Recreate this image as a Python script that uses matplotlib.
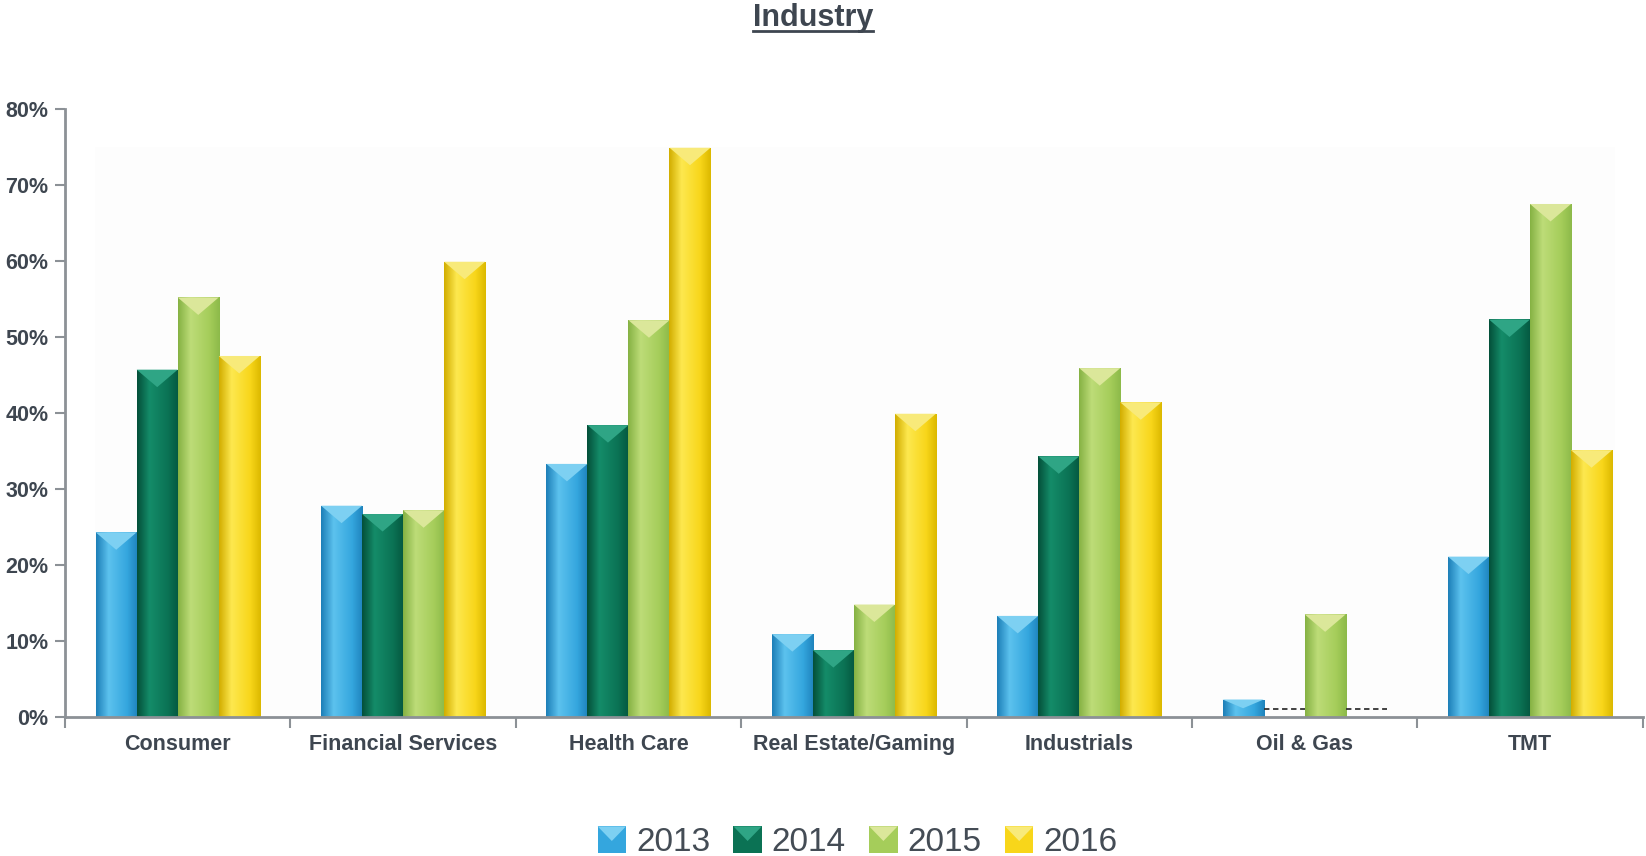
import matplotlib
matplotlib.use("Agg")
import matplotlib.pyplot as plt
import numpy as np
from matplotlib.colors import LinearSegmentedColormap
from matplotlib.patches import Rectangle, Polygon
from matplotlib.legend_handler import HandlerBase
from matplotlib.lines import Line2D

plt.rcParams['font.family'] = ['Liberation Sans', 'DejaVu Sans']

# Share of deals by industry and year (%)
industries = ['Consumer', 'Financial Services', 'Health Care', 'Real Estate/Gaming',
              'Industrials', 'Oil & Gas', 'TMT']
years = ['2013', '2014', '2015', '2016']
v2013 = [24.3, 27.8, 33.3, 10.9, 13.3, 2.3, 21.1]
v2014 = [45.7, 26.7, 38.4, 8.8, 34.3, 0.0, 52.3]
v2015 = [55.2, 27.2, 52.2, 14.8, 45.9, 13.5, 67.5]
v2016 = [47.5, 59.9, 74.9, 39.9, 41.4, 0.0, 35.1]
series = [v2013, v2014, v2015, v2016]

# dark edge, light, base, dark edge  +  colour of the top cap
palettes = {
    '2013': (['#1d7fb8', '#5cc2ee', '#34a6de', '#1f84bd'], '#7dd0f2'),
    '2014': (['#04503a', '#148c69', '#0b7254', '#055840'], '#2fa585'),
    '2015': (['#86b244', '#bddc78', '#a5cd5a', '#8dba4a'], '#dbe79a'),
    '2016': (['#d2ae00', '#fde84f', '#f8d61a', '#dcb900'], '#f8ea7a'),
}

TXT = '#3e4650'
AXC = '#8c9196'

fig = plt.figure(figsize=(16.46, 8.56), dpi=100)
ax = fig.add_axes([0.0395, 0.1624, 0.9585, 0.7103])

x = np.arange(len(industries))
width = 0.182
offsets = [-1.5 * width, -0.5 * width, 0.5 * width, 1.5 * width]

# faint plot-area panel
ax.add_patch(Rectangle((-0.368, 0), 6.744, 75, facecolor='#fdfdfd', edgecolor='none', zorder=0))

grad = np.linspace(0, 1, 64).reshape(1, -1)
for yr, vals, off in zip(years, series, offsets):
    cols, cap = palettes[yr]
    cmap = LinearSegmentedColormap.from_list(yr, list(zip([0, 0.3, 0.75, 1.0], cols)))
    bars = ax.bar(x + off, vals, width, color=cols[2], edgecolor='none', zorder=2)
    for b, v in zip(bars, vals):
        bx, bw, bh = b.get_x(), b.get_width(), b.get_height()
        if bh <= 0:
            # zero values get a dashed marker just above the axis
            ax.hlines(1.0, bx, bx + bw, colors='#333333', linestyles=(0, (3, 2)),
                      linewidth=1.3, zorder=3)
            continue
        im = ax.imshow(grad, cmap=cmap, aspect='auto', extent=[bx, bx + bw, 0, bh],
                       zorder=2.5, interpolation='bilinear')
        im.set_clip_path(b)
        d = min(2.3, bh * 0.5)
        ax.add_patch(Polygon([(bx, bh), (bx + bw, bh), (bx + bw / 2, bh - d)],
                             closed=True, facecolor=cap, edgecolor='none', zorder=3))

ax.set_xlim(-0.5, 6.5)
ax.set_ylim(0, 80)
ax.set_yticks(range(0, 81, 10))
ax.set_yticklabels([f'{t}%' for t in range(0, 81, 10)])
ax.set_xticks(x)
ax.set_xticklabels(industries)
ax.set_xticks(np.arange(-0.5, 6.6, 1), minor=True)

for lbl in ax.get_xticklabels() + ax.get_yticklabels():
    lbl.set_fontweight('bold')
ax.tick_params(axis='x', which='major', length=0, pad=12, labelsize=15.5, labelcolor=TXT)
ax.tick_params(axis='x', which='minor', length=8, width=1.5, color=AXC, direction='out')
ax.tick_params(axis='y', length=7, width=1.5, color=AXC, pad=5, labelsize=15.5, labelcolor=TXT)

for s in ['top', 'right']:
    ax.spines[s].set_visible(False)
for s in ['left', 'bottom']:
    ax.spines[s].set_color(AXC)
    ax.spines[s].set_linewidth(2)
ax.set_facecolor('white')

# title with underline
title = fig.text(0.494, 0.979, 'Industry', ha='center', va='center',
                 fontsize=22, fontweight='bold', color=TXT)
fig.canvas.draw()
bb = title.get_window_extent(fig.canvas.get_renderer()).transformed(fig.transFigure.inverted())
fig.add_artist(Line2D([bb.x0, bb.x1], [bb.y0 + 0.002, bb.y0 + 0.002],
                      transform=fig.transFigure, color=TXT, linewidth=2))


class CapHandler(HandlerBase):
    def __init__(self, cols, cap):
        super().__init__()
        self.cols, self.cap = cols, cap

    def create_artists(self, legend, orig_handle, xdescent, ydescent, width, height,
                       fontsize, trans):
        sq = Rectangle((-xdescent, -ydescent), width, height, facecolor=self.cols[2],
                       edgecolor='none', transform=trans)
        tri = Polygon([(-xdescent, -ydescent + height),
                       (-xdescent + width, -ydescent + height),
                       (-xdescent + width / 2, -ydescent + height * 0.45)],
                      closed=True, facecolor=self.cap, edgecolor='none', transform=trans)
        return [sq, tri]


handles = [Rectangle((0, 0), 1, 1) for _ in years]
hmap = {h: CapHandler(*palettes[yr]) for h, yr in zip(handles, years)}
leg = fig.legend(handles, years, handler_map=hmap, loc='center', bbox_to_anchor=(0.521, 0.016),
                 ncol=4, frameon=False, fontsize=24, handlelength=0.85, handleheight=0.85,
                 handletextpad=0.3, columnspacing=0.7)
for t in leg.get_texts():
    t.set_color('#444c55')

fig.savefig('out.png', dpi=100, facecolor='white')
